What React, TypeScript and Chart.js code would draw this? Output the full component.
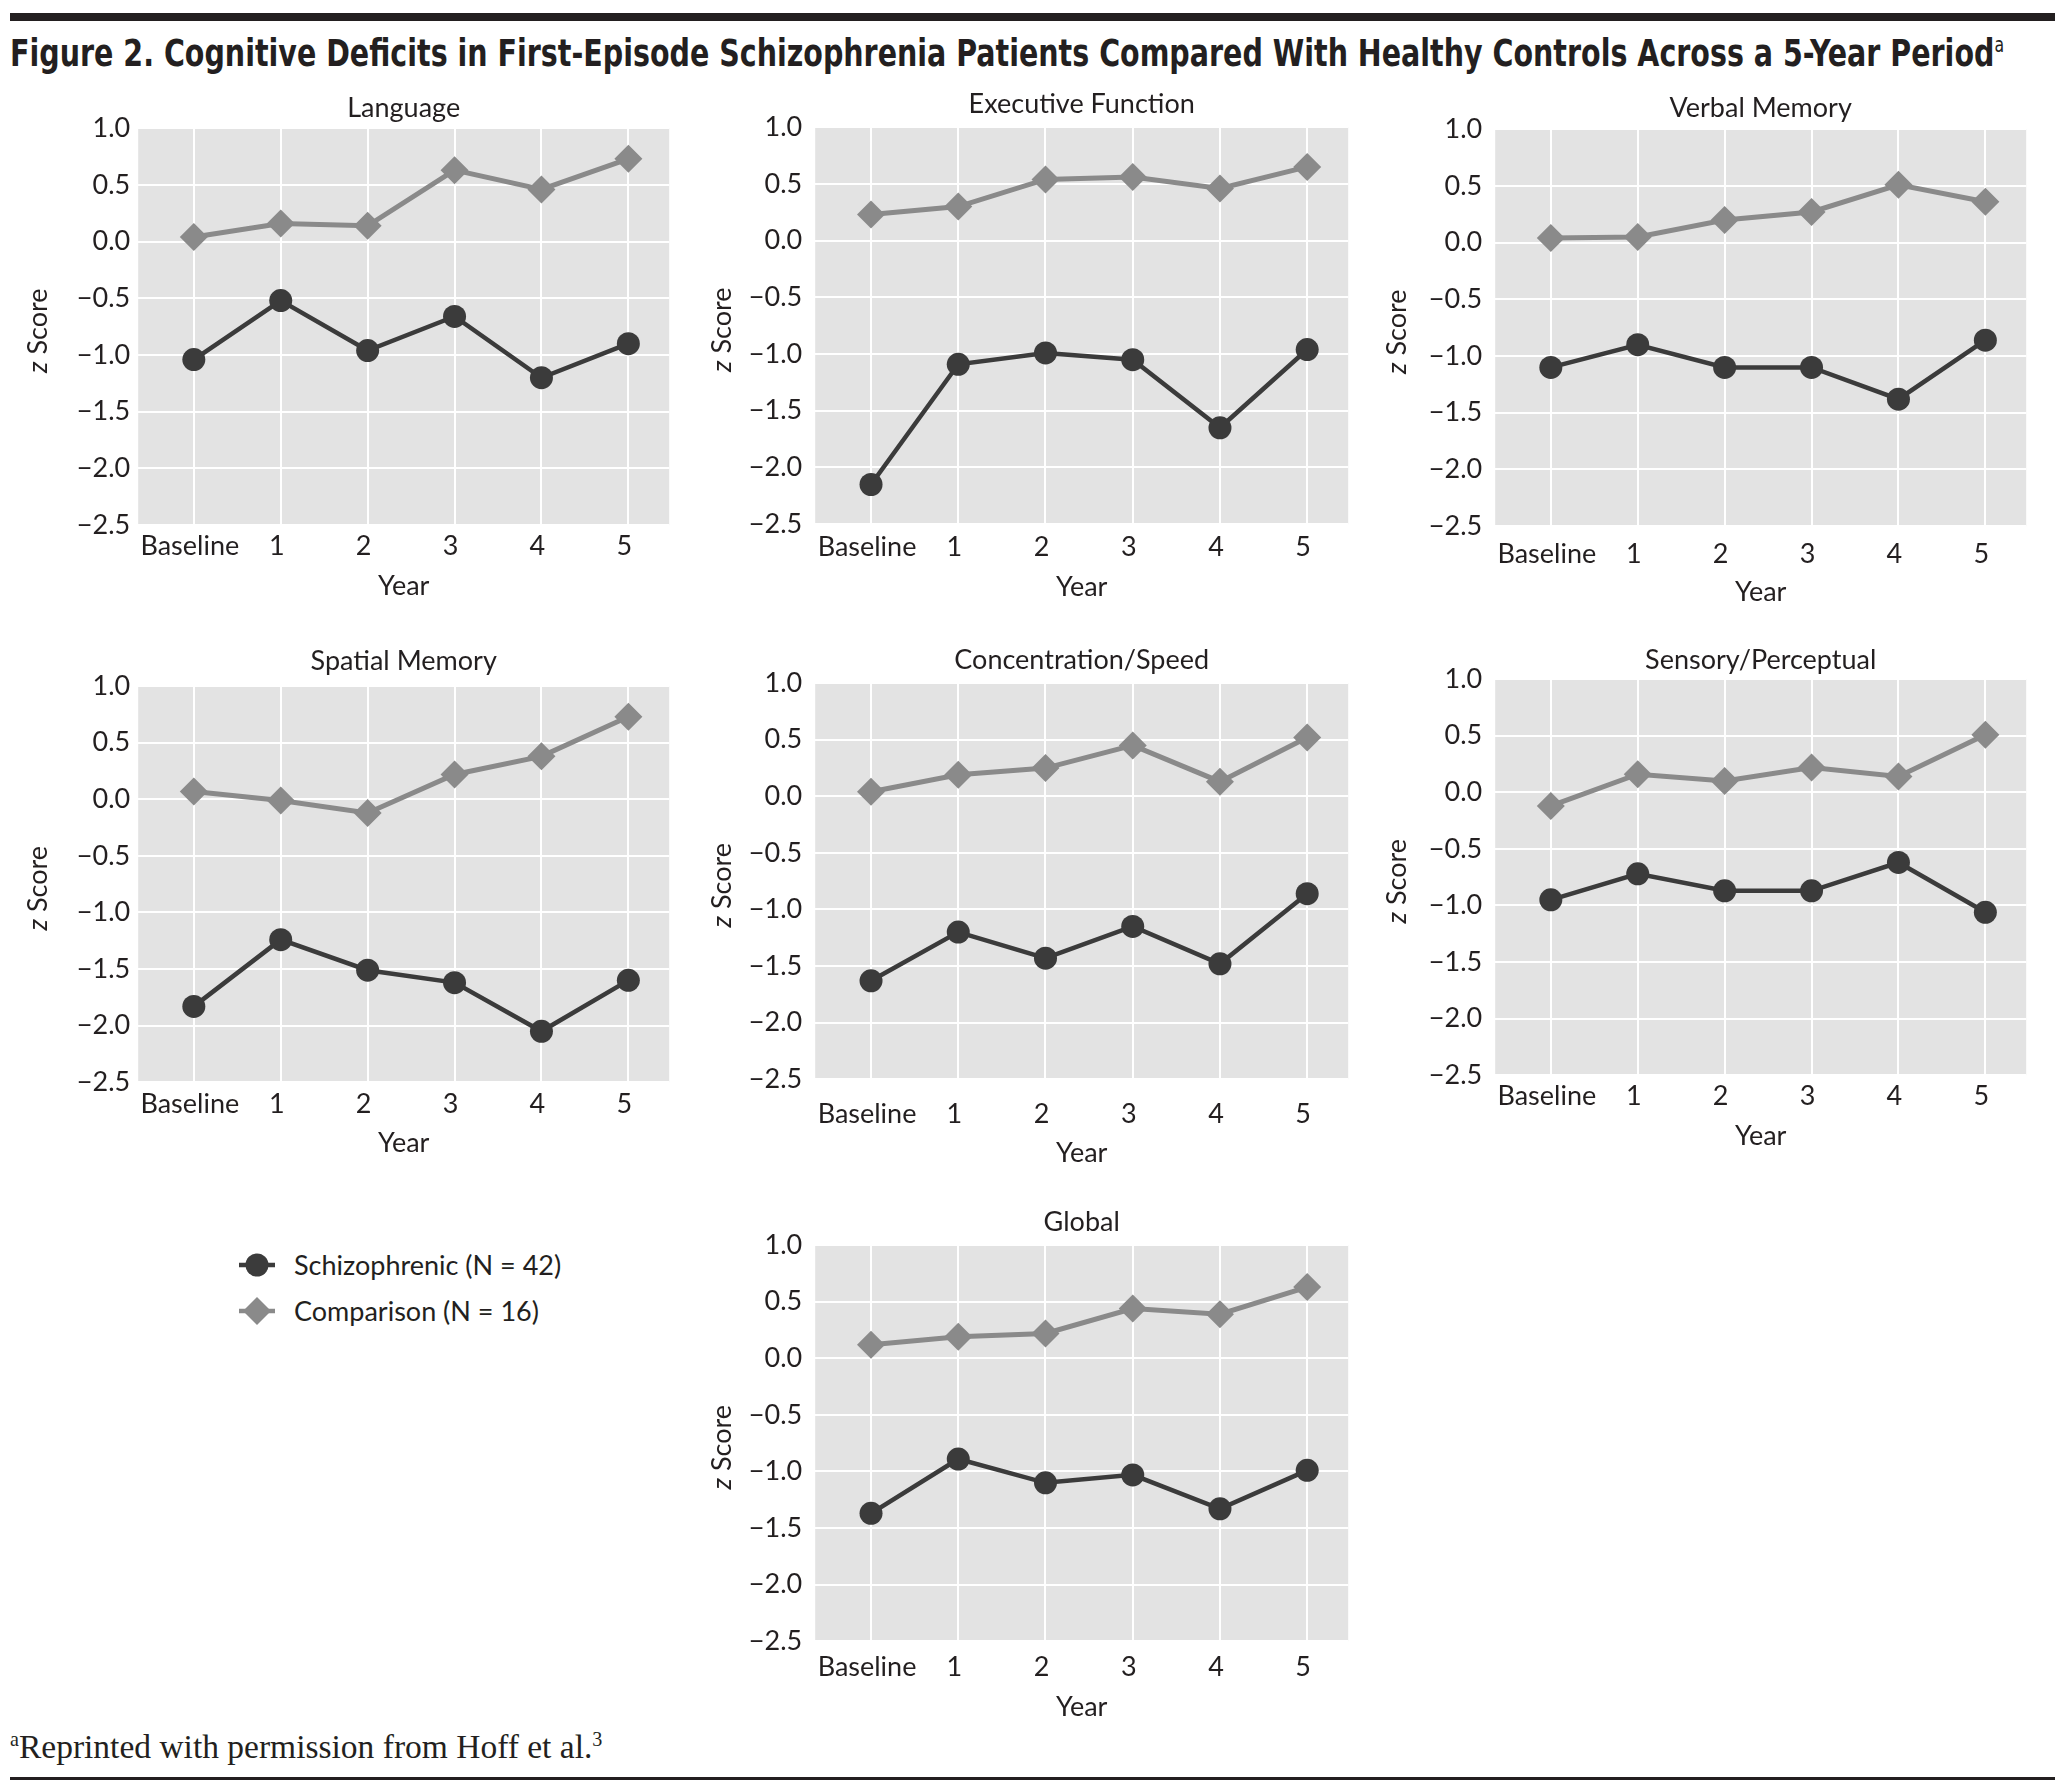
import React, { useEffect, useLayoutEffect, useRef, useState } from 'react';
import { Chart, registerables } from 'chart.js';

Chart.register(...registerables);

// ---------- data ----------
const yearLabels = ['Baseline', '1', '2', '3', '4', '5'];
const yTickValues = [-2.5, -2.0, -1.5, -1.0, -0.5, 0.0, 0.5, 1.0];

const languageSchiz = [-1.04, -0.52, -0.96, -0.66, -1.2, -0.9];
const languageComp = [0.04, 0.16, 0.14, 0.63, 0.46, 0.73];
const executiveSchiz = [-2.15, -1.09, -0.99, -1.05, -1.65, -0.96];
const executiveComp = [0.23, 0.3, 0.54, 0.56, 0.46, 0.65];
const verbalSchiz = [-1.1, -0.9, -1.1, -1.1, -1.38, -0.86];
const verbalComp = [0.04, 0.05, 0.2, 0.27, 0.51, 0.36];
const spatialSchiz = [-1.83, -1.24, -1.51, -1.62, -2.05, -1.6];
const spatialComp = [0.07, -0.01, -0.12, 0.22, 0.38, 0.73];
const concentrationSchiz = [-1.63, -1.2, -1.43, -1.15, -1.48, -0.86];
const concentrationComp = [0.04, 0.19, 0.25, 0.45, 0.13, 0.52];
const sensorySchiz = [-0.95, -0.72, -0.87, -0.87, -0.62, -1.06];
const sensoryComp = [-0.12, 0.16, 0.1, 0.22, 0.14, 0.51];
const globalSchiz = [-1.37, -0.89, -1.1, -1.03, -1.33, -0.99];
const globalComp = [0.12, 0.19, 0.22, 0.44, 0.39, 0.63];

const schizLabel = 'Schizophrenic (N = 42)';
const compLabel = 'Comparison (N = 16)';

// ---------- style ----------
const FONT = 'Lato, "Open Sans", sans-serif';
const FS = 27;
const LH = FS * 1.2;
const TEXT = '#231f20';
const DARK = '#3b3b3b';
const GRAY = '#8a8a8a';
const BG = '#e3e3e3';
const XMIN = -0.64;
const XMAX = 5.47;

type Rect = { l: number; t: number; r: number; b: number };
interface PanelDef {
  title: string;
  schiz: number[];
  comp: number[];
  plot: Rect;
  titleY: number;
  tickY: number;
  yearY: number;
  zX: number;
  tickR: number;
}

const panels: PanelDef[] = [
  { title: 'Language', schiz: languageSchiz, comp: languageComp, plot: { l: 138, t: 128, r: 683, b: 525 }, titleY: 108, tickY: 546, yearY: 586, zX: 38, tickR: 130 },
  { title: 'Executive Function', schiz: executiveSchiz, comp: executiveComp, plot: { l: 815, t: 127, r: 1362, b: 524 }, titleY: 104, tickY: 547, yearY: 587, zX: 722, tickR: 802 },
  { title: 'Verbal Memory', schiz: verbalSchiz, comp: verbalComp, plot: { l: 1495, t: 129, r: 2040, b: 526 }, titleY: 108, tickY: 554, yearY: 592, zX: 1397, tickR: 1482 },
  { title: 'Spatial Memory', schiz: spatialSchiz, comp: spatialComp, plot: { l: 138, t: 686, r: 683, b: 1082 }, titleY: 661, tickY: 1104, yearY: 1143, zX: 38, tickR: 130 },
  { title: 'Concentration/Speed', schiz: concentrationSchiz, comp: concentrationComp, plot: { l: 815, t: 683, r: 1362, b: 1079 }, titleY: 660, tickY: 1114, yearY: 1153, zX: 722, tickR: 802 },
  { title: 'Sensory/Perceptual', schiz: sensorySchiz, comp: sensoryComp, plot: { l: 1495, t: 679, r: 2040, b: 1075 }, titleY: 660, tickY: 1096, yearY: 1136, zX: 1397, tickR: 1482 },
  { title: 'Global', schiz: globalSchiz, comp: globalComp, plot: { l: 815, t: 1245, r: 1362, b: 1641 }, titleY: 1222, tickY: 1667, yearY: 1707, zX: 722, tickR: 802 },
];

const bgPlugin = {
  id: 'plotBg',
  beforeDraw(chart: any) {
    const { ctx, chartArea } = chart;
    if (!chartArea) return;
    ctx.save();
    ctx.fillStyle = BG;
    ctx.fillRect(chartArea.left, chartArea.top, chartArea.right - chartArea.left, chartArea.bottom - chartArea.top);
    ctx.restore();
  },
};

// y-axis title "z Score" with an italic z
const zTitlePlugin = {
  id: 'zTitle',
  afterDraw(chart: any, _args: any, opts: any) {
    const { ctx, chartArea } = chart;
    if (!chartArea) return;
    const x = opts.x;
    const y = (chartArea.top + chartArea.bottom) / 2 + 4;
    const fi = `italic ${FS}px ${FONT}`;
    const fn = `${FS}px ${FONT}`;
    ctx.save();
    ctx.translate(x, y);
    ctx.rotate(-Math.PI / 2);
    ctx.fillStyle = TEXT;
    ctx.textBaseline = 'middle';
    ctx.textAlign = 'left';
    ctx.font = fi;
    const wz = ctx.measureText('z').width;
    ctx.font = fn;
    const ws = ctx.measureText(' Score').width;
    const start = -(wz + ws) / 2;
    ctx.font = fi;
    ctx.fillText('z', start, 0);
    ctx.font = fn;
    ctx.fillText(' Score', start + wz, 0);
    ctx.restore();
  },
};

function fmtY(v: number): string {
  if (Math.abs(v) < 1e-9) return '0.0';
  return v < 0 ? '\u2212' + Math.abs(v).toFixed(1) : v.toFixed(1);
}

function Panel({ p }: { p: PanelDef }) {
  const ref = useRef<HTMLCanvasElement>(null);
  const canvasLeft = p.zX - LH / 2;
  const yw = p.plot.l - canvasLeft;
  const titlePadBottom = p.plot.t - p.titleY - LH / 2;
  const canvasTop = p.plot.t - LH - titlePadBottom;
  const canvasBottom = p.yearY + LH / 2;
  const xh = canvasBottom - p.plot.b;
  const tickPad = p.tickY - p.plot.b - LH / 2;
  const width = p.plot.r - canvasLeft;
  const height = canvasBottom - canvasTop;

  useEffect(() => {
    if (!ref.current) return;
    const font = { family: FONT, size: FS };
    const chart = new Chart(ref.current, {
      type: 'line',
      data: {
        datasets: [
          {
            label: compLabel,
            data: p.comp.map((v, i) => ({ x: i, y: v })),
            borderColor: GRAY,
            backgroundColor: GRAY,
            borderWidth: 5,
            pointStyle: 'rectRot',
            pointRadius: 14,
            pointBorderWidth: 0,
            pointBackgroundColor: GRAY,
            clip: false,
          },
          {
            label: schizLabel,
            data: p.schiz.map((v, i) => ({ x: i, y: v })),
            borderColor: DARK,
            backgroundColor: DARK,
            borderWidth: 4.5,
            pointStyle: 'circle',
            pointRadius: 11.5,
            pointBorderWidth: 0,
            pointBackgroundColor: DARK,
            clip: false,
          },
        ],
      },
      options: {
        animation: false,
        responsive: true,
        maintainAspectRatio: false,
        devicePixelRatio: 1,
        layout: { padding: 0 },
        events: [],
        plugins: {
          legend: { display: false },
          tooltip: { enabled: false },
          title: {
            display: true,
            text: p.title,
            fullSize: false,
            color: TEXT,
            font: { family: FONT, size: FS, weight: 'normal' },
            padding: { top: 0, bottom: titlePadBottom },
          },
          zTitle: { x: LH / 2 },
        },
        scales: {
          x: {
            type: 'linear',
            min: XMIN,
            max: XMAX,
            border: { display: false },
            grid: { color: '#ffffff', lineWidth: 2, drawTicks: false },
            afterBuildTicks: (s: any) => {
              s.ticks = yearLabels.map((_, i) => ({ value: i }));
            },
            afterFit: (s: any) => {
              s.height = xh;
            },
            ticks: {
              padding: tickPad,
              labelOffset: -4,
              color: TEXT,
              font,
              maxRotation: 0,
              autoSkip: false,
              callback: (v: any) => yearLabels[Math.round(Number(v))] ?? '',
            },
            title: { display: true, text: 'Year', color: TEXT, font, padding: 0 },
          },
          y: {
            type: 'linear',
            min: -2.5,
            max: 1.0,
            border: { display: false },
            grid: { color: '#ffffff', lineWidth: 2, drawTicks: false },
            afterBuildTicks: (s: any) => {
              s.ticks = yTickValues.map((v) => ({ value: v }));
            },
            afterFit: (s: any) => {
              s.width = yw;
            },
            ticks: {
              padding: p.plot.l - p.tickR,
              color: TEXT,
              font,
              callback: (v: any) => fmtY(Number(v)),
            },
            title: { display: false },
          },
        },
      } as any,
      plugins: [bgPlugin, zTitlePlugin],
    });
    return () => chart.destroy();
  }, []);

  return (
    <div style={{ position: 'absolute', left: canvasLeft, top: canvasTop, width, height }}>
      <canvas ref={ref} />
    </div>
  );
}

function Title() {
  const ref = useRef<HTMLSpanElement>(null);
  const [sx, setSx] = useState(1);
  useLayoutEffect(() => {
    if (ref.current) {
      const w = ref.current.getBoundingClientRect().width;
      if (w > 0) setSx(1994 / w);
    }
  }, []);
  return (
    <div
      style={{
        position: 'absolute',
        left: 10,
        top: 35,
        whiteSpace: 'nowrap',
        transformOrigin: '0 0',
        transform: `scaleX(${sx})`,
        fontFamily: '"Liberation Sans Narrow", "DejaVu Sans Condensed", "Liberation Sans", sans-serif',
        fontWeight: 700,
        fontSize: 37,
        lineHeight: 1,
        color: TEXT,
      }}
    >
      <span ref={ref}>
        Figure 2. Cognitive Deficits in First-Episode Schizophrenia Patients Compared With Healthy Controls Across a 5-Year Period
        <sup style={{ fontSize: '0.55em', fontWeight: 400, verticalAlign: '0.7em', lineHeight: 0 }}>a</sup>
      </span>
    </div>
  );
}

function LegendRow({ y, label, shape, color }: { y: number; label: string; shape: 'circle' | 'diamond'; color: string }) {
  return (
    <div style={{ position: 'absolute', left: 238, top: y - 20, height: 40, display: 'flex', alignItems: 'center', whiteSpace: 'nowrap' }}>
      <svg width={38} height={40} style={{ display: 'block' }}>
        <line x1={1} y1={20} x2={37} y2={20} stroke={color} strokeWidth={4.5} />
        {shape === 'circle' ? (
          <circle cx={19} cy={20} r={11.5} fill={color} />
        ) : (
          <polygon points="19,6 33,20 19,34 5,20" fill={color} />
        )}
      </svg>
      <span style={{ marginLeft: 18, fontFamily: FONT, fontSize: FS, color: TEXT, lineHeight: '40px' }}>{label}</span>
    </div>
  );
}

export default function App() {
  return (
    <div style={{ position: 'absolute', left: 0, top: 0, width: 2067, height: 1784, background: '#ffffff', overflow: 'hidden' }}>
      <div style={{ position: 'absolute', left: 10, top: 13, width: 2045, height: 8, background: TEXT }} />
      <Title />
      {panels.map((p) => (
        <Panel key={p.title} p={p} />
      ))}
      <LegendRow y={1265} label={schizLabel} shape="circle" color={DARK} />
      <LegendRow y={1311} label={compLabel} shape="diamond" color={GRAY} />
      <div
        style={{
          position: 'absolute',
          left: 10,
          top: 1730,
          whiteSpace: 'nowrap',
          fontFamily: '"Liberation Serif", "DejaVu Serif", serif',
          fontSize: 33.5,
          lineHeight: 1,
          color: TEXT,
        }}
      >
        <sup style={{ fontSize: '0.6em', verticalAlign: '0.6em', lineHeight: 0 }}>a</sup>Reprinted with permission from Hoff et al.
        <sup style={{ fontSize: '0.6em', verticalAlign: '0.6em', lineHeight: 0 }}>3</sup>
      </div>
      <div style={{ position: 'absolute', left: 10, top: 1777, width: 2045, height: 2.5, background: TEXT }} />
    </div>
  );
}
